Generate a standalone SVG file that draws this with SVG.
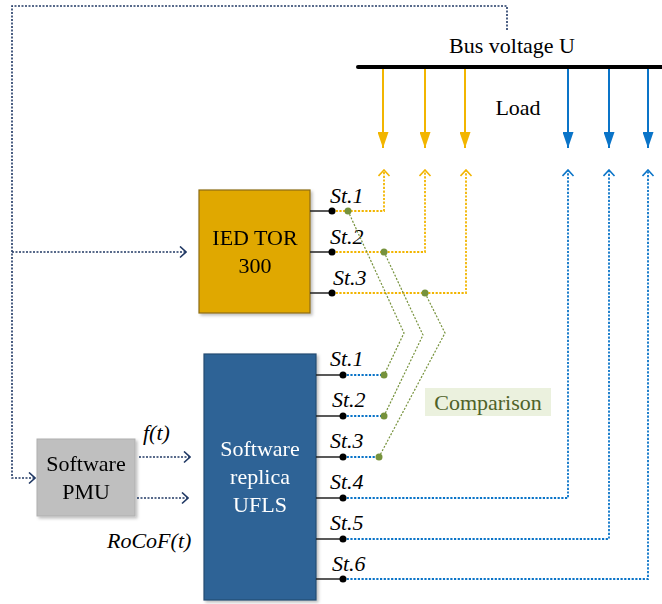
<svg xmlns="http://www.w3.org/2000/svg" width="662" height="604" viewBox="0 0 662 604">
<style>
text{font-family:'Liberation Serif','Times New Roman','DejaVu Serif',serif;font-size:22px}
.it{font-style:italic}
.w{fill:#fff}
.nav{fill:none;stroke:#203864;stroke-width:1.6;stroke-dasharray:2 1.5}
.org{fill:none;stroke:#F2B500;stroke-width:1.8;stroke-dasharray:2.2 1.5}
.blu{fill:none;stroke:#0A74C8;stroke-width:1.8;stroke-dasharray:2.2 1.5}
.grn{fill:none;stroke:#76923C;stroke-width:1.2;stroke-dasharray:2 1.6}
.port{stroke:#222;stroke-width:1.5}
.dot{fill:#000}
.gdot{fill:#76923C}
</style>
<defs>
<marker id="fo" viewBox="0 0 16 11" refX="16" refY="5.5" markerWidth="16" markerHeight="11" markerUnits="userSpaceOnUse" orient="auto"><path d="M0,0 L16,5.5 L0,11 z" fill="#F2B500"/></marker>
<marker id="fb" viewBox="0 0 16 11" refX="16" refY="5.5" markerWidth="16" markerHeight="11" markerUnits="userSpaceOnUse" orient="auto"><path d="M0,0 L16,5.5 L0,11 z" fill="#0A74C8"/></marker>
<marker id="co" viewBox="-1 -1 8 13" refX="6" refY="5.5" markerWidth="8" markerHeight="13" markerUnits="userSpaceOnUse" orient="auto"><path d="M0,0 L6,5.5 L0,11" fill="none" stroke="#F2B500" stroke-width="1.6"/></marker>
<marker id="cb" viewBox="-1 -1 8 13" refX="6" refY="5.5" markerWidth="8" markerHeight="13" markerUnits="userSpaceOnUse" orient="auto"><path d="M0,0 L6,5.5 L0,11" fill="none" stroke="#0A74C8" stroke-width="1.6"/></marker>
<marker id="cn" viewBox="-1 -1 8 13" refX="6" refY="5.5" markerWidth="8" markerHeight="13" markerUnits="userSpaceOnUse" orient="auto"><path d="M0,0 L6,5.5 L0,11" fill="none" stroke="#203864" stroke-width="1.6"/></marker>
<filter id="sh" x="-10%" y="-10%" width="130%" height="130%"><feDropShadow dx="2" dy="2" stdDeviation="1.5" flood-color="#000" flood-opacity="0.25"/></filter>
</defs>

<g id="bus">
<line x1="358" y1="67" x2="662" y2="67" stroke="#000" stroke-width="4" stroke-linecap="round"/>
<text x="512" y="53" text-anchor="middle" font-family="Liberation Serif, serif">Bus voltage U</text>
<text x="518" y="115" text-anchor="middle">Load</text>
</g>

<g id="ied" filter="url(#sh)">
<rect x="199" y="190" width="111" height="123" fill="#E0A800" stroke="#8C6C10" stroke-width="1.2"/>
<text x="255" y="245" text-anchor="middle">IED TOR</text>
<text x="255" y="273" text-anchor="middle">300</text>
</g>

<g id="ufls" filter="url(#sh)">
<rect x="204" y="354" width="112" height="246" fill="#2F6496" stroke="#244C72" stroke-width="1.2"/>
<text class="w" x="260" y="456" text-anchor="middle">Software</text>
<text class="w" x="260" y="484" text-anchor="middle">replica</text>
<text class="w" x="260" y="512" text-anchor="middle">UFLS</text>
</g>

<g id="pmu" filter="url(#sh)">
<rect x="37" y="439" width="98" height="77" fill="#BFBFBF" stroke="#AFAFAF" stroke-width="1"/>
<text x="86" y="471" text-anchor="middle">Software</text>
<text x="86" y="499" text-anchor="middle">PMU</text>
</g>

<g id="comparison">
<rect x="425" y="388" width="126" height="28" fill="#EBF1DE"/>
<text x="488" y="410" text-anchor="middle" fill="#4F6228">Comparison</text>
</g>

<g id="labels">
<text class="it" x="330" y="203">St.1</text>
<text class="it" x="330" y="244">St.2</text>
<text class="it" x="333" y="285">St.3</text>
<text class="it" x="330" y="366">St.1</text>
<text class="it" x="332" y="407">St.2</text>
<text class="it" x="330" y="448">St.3</text>
<text class="it" x="330" y="489">St.4</text>
<text class="it" x="330" y="530">St.5</text>
<text class="it" x="332" y="571">St.6</text>
<text class="it" x="143" y="440">f(t)</text>
<text class="it" x="107" y="548">RoCoF(t)</text>
</g>

<g id="connectors">
<line x1="383" y1="69" x2="383" y2="148" stroke="#F2B500" stroke-width="2" marker-end="url(#fo)"/>
<line x1="425" y1="69" x2="425" y2="148" stroke="#F2B500" stroke-width="2" marker-end="url(#fo)"/>
<line x1="465" y1="69" x2="465" y2="148" stroke="#F2B500" stroke-width="2" marker-end="url(#fo)"/>
<line x1="568" y1="69" x2="568" y2="148" stroke="#0A74C8" stroke-width="2" marker-end="url(#fb)"/>
<line x1="609" y1="69" x2="609" y2="148" stroke="#0A74C8" stroke-width="2" marker-end="url(#fb)"/>
<line x1="648" y1="69" x2="648" y2="148" stroke="#0A74C8" stroke-width="2" marker-end="url(#fb)"/>

<path class="nav" d="M507,30 V6 H12 V478 H35" marker-end="url(#cn)"/>
<path class="nav" d="M12,252 H186" marker-end="url(#cn)"/>
<path class="nav" d="M139,457 H190" marker-end="url(#cn)"/>
<path class="nav" d="M137,498 H188" marker-end="url(#cn)"/>

<line class="port" x1="310" y1="211" x2="332" y2="211"/>
<line class="port" x1="310" y1="252" x2="332" y2="252"/>
<line class="port" x1="310" y1="293" x2="332" y2="293"/>
<path class="org" d="M332,211 H384 V170" marker-end="url(#co)"/>
<path class="org" d="M332,252 H425 V170" marker-end="url(#co)"/>
<path class="org" d="M332,293 H466 V170" marker-end="url(#co)"/>

<line class="port" x1="316" y1="375" x2="343" y2="375"/>
<line class="port" x1="316" y1="416" x2="343" y2="416"/>
<line class="port" x1="316" y1="457" x2="343" y2="457"/>
<line class="port" x1="316" y1="498" x2="343" y2="498"/>
<line class="port" x1="316" y1="539" x2="343" y2="539"/>
<line class="port" x1="316" y1="579" x2="343" y2="579"/>
<path class="blu" d="M343,375 H384"/>
<path class="blu" d="M343,416 H384"/>
<path class="blu" d="M343,457 H379"/>
<path class="blu" d="M343,498 H568 V170" marker-end="url(#cb)"/>
<path class="blu" d="M343,539 H609 V170" marker-end="url(#cb)"/>
<path class="blu" d="M343,579 H648 V170" marker-end="url(#cb)"/>

<path class="grn" d="M348,211 L404,333 L384,375"/>
<path class="grn" d="M384,252 L423,335 L384,416"/>
<path class="grn" d="M425,293 L445,333 L379,457"/>

<circle class="dot" cx="332" cy="211" r="3.5"/>
<circle class="dot" cx="332" cy="252" r="3.5"/>
<circle class="dot" cx="332" cy="293" r="3.5"/>
<circle class="dot" cx="343" cy="375" r="3.5"/>
<circle class="dot" cx="343" cy="416" r="3.5"/>
<circle class="dot" cx="343" cy="457" r="3.5"/>
<circle class="dot" cx="343" cy="498" r="3.5"/>
<circle class="dot" cx="343" cy="539" r="3.5"/>
<circle class="dot" cx="343" cy="579" r="3.5"/>
<circle class="gdot" cx="348" cy="211" r="3.5"/>
<circle class="gdot" cx="384" cy="252" r="3.5"/>
<circle class="gdot" cx="425" cy="293" r="3.5"/>
<circle class="gdot" cx="384" cy="375" r="3.5"/>
<circle class="gdot" cx="384" cy="416" r="3.5"/>
<circle class="gdot" cx="379" cy="457" r="3.5"/>
</g>
</svg>
